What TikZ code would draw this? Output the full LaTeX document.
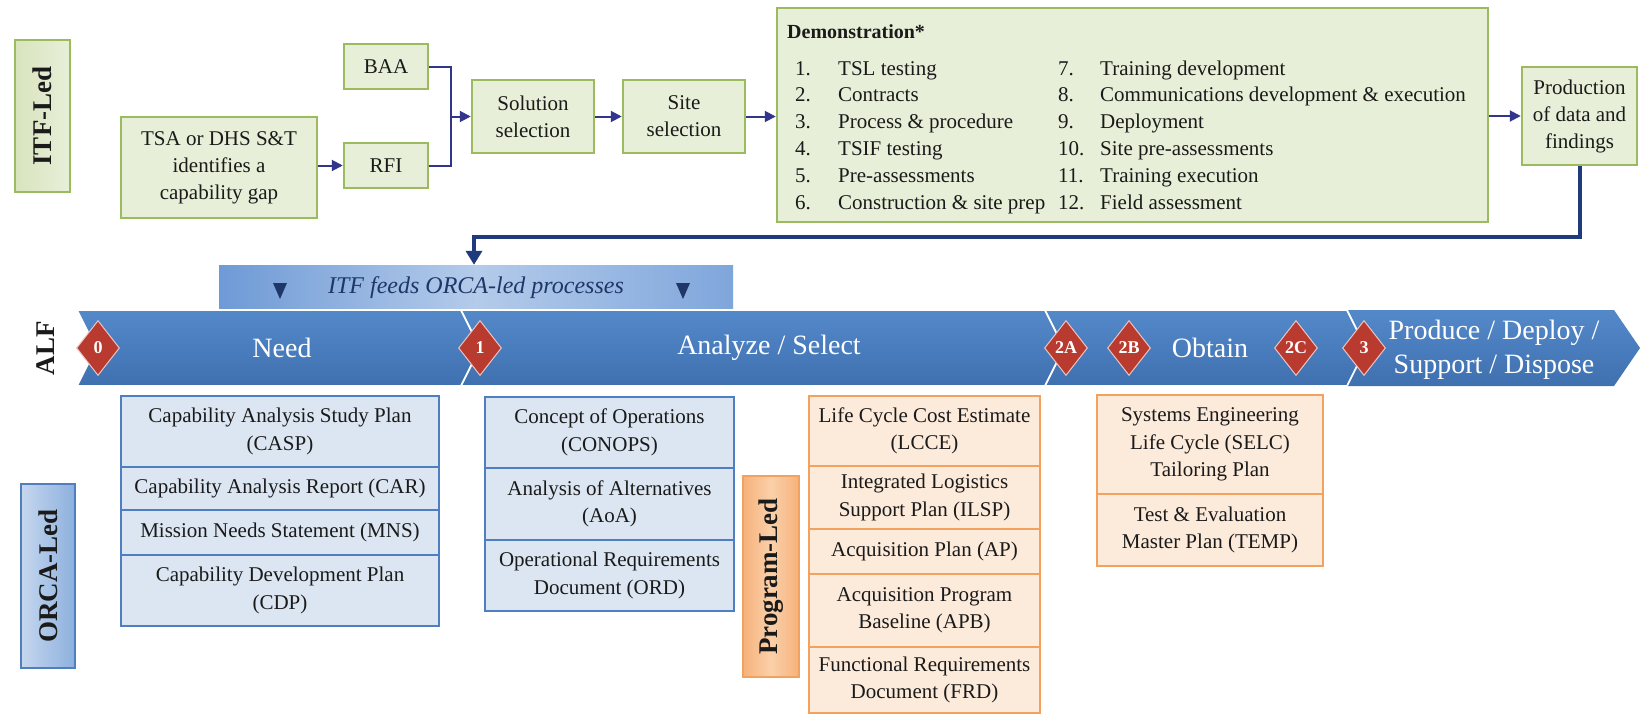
\documentclass[tikz,border=0pt]{standalone}
\usepackage{fontspec}
\setmainfont{Liberation Serif}
\usetikzlibrary{arrows.meta,shapes.geometric,calc}
\definecolor{gfill}{HTML}{E8EFD8}
\definecolor{gfillB}{HTML}{D8E4BE}
\definecolor{gline}{HTML}{9CBA5E}
\definecolor{bfill}{HTML}{DCE6F2}
\definecolor{bline}{HTML}{4F7FC0}
\definecolor{ofill}{HTML}{FCEADB}
\definecolor{oline}{HTML}{F2A15F}
\definecolor{txt}{HTML}{1A1A1A}
\definecolor{arrc}{HTML}{33358A}
\definecolor{fbc}{HTML}{1F3B7D}
\definecolor{bandtop}{HTML}{5489C9}
\definecolor{bandbot}{HTML}{3F70B0}
\definecolor{dred}{HTML}{B93A2F}
\definecolor{navy}{HTML}{1F3768}
\definecolor{itfL}{HTML}{6E9AD6}
\definecolor{itfM}{HTML}{B4CBEA}
\definecolor{itfR}{HTML}{7FA6DC}
\definecolor{orcaL}{HTML}{C5D7EE}
\definecolor{orcaR}{HTML}{8DB0DE}
\definecolor{progE}{HTML}{F6B27A}
\definecolor{progM}{HTML}{FAD0AA}
\tikzset{
 gbox/.style={draw=gline, line width=2.5pt, fill=gfill, inner sep=0pt, align=center, font=\fontsize{21}{27}\selectfont, text=txt},
 bcell/.style={draw=bline, line width=2pt, fill=bfill, inner sep=0pt, align=center, font=\fontsize{21}{27.5}\selectfont, text=txt},
 ocell/.style={draw=oline, line width=2pt, fill=ofill, inner sep=0pt, align=center, font=\fontsize{21}{27.5}\selectfont, text=txt},
 arr/.style={draw=arrc, line width=2pt, -{Triangle[length=11pt,width=11pt]}},
 ln/.style={draw=arrc, line width=2pt},
 fb/.style={draw=fbc, line width=4pt, -{Triangle[length=14pt,width=16pt]}},
 dia/.style={diamond, fill=dred, draw=white!70!dred, line width=1pt, minimum width=43pt, minimum height=55pt, inner sep=0pt, text=white, font=\bfseries\fontsize{18}{18}\selectfont},
 bandtxt/.style={text=white, font=\fontsize{28}{34}\selectfont, align=center, inner sep=0pt},
 sidelbl/.style={rotate=90, font=\bfseries\fontsize{27}{27}\selectfont, text=txt, inner sep=0pt},
 dtxt/.style={anchor=base west, font=\fontsize{21}{27}\selectfont, inner sep=0pt, text=txt},
 seg/.style={top color=bandtop, bottom color=bandbot, draw=white, line width=1.6pt},
}
\begin{document}
\begin{tikzpicture}[x=1pt,y=-1pt]
\useasboundingbox (0,0) rectangle (1640,715);
\fill[white] (0,0) rectangle (1640,715);

% ---------- ITF-led top row ----------
\node[gbox, left color=gfillB, right color=gfill, minimum width=55pt, minimum height=152pt] (itfled) at (42.5,116) {};
\node[sidelbl] (itfledtxt) at (itfled.center) {ITF-Led};

\node[gbox, minimum width=196pt, minimum height=101pt] (tsa) at (219,167.5) {TSA or DHS S\&T\\identifies a\\capability gap};
\node[gbox, minimum width=84pt, minimum height=45pt] (baa) at (386,66.5) {BAA};
\node[gbox, minimum width=84pt, minimum height=45pt] (rfi) at (386,165.5) {RFI};
\node[gbox, minimum width=122pt, minimum height=73pt] (sol) at (533,116.5) {Solution\\selection};
\node[gbox, minimum width=122pt, minimum height=73pt] (site) at (684,116.5) {Site\\selection};
\node[gbox, minimum width=711pt, minimum height=214pt] (demo) at (1132.5,115) {};
\node[gbox, minimum width=115pt, minimum height=98pt] (prod) at (1579.5,116) {Production\\of data and\\findings};

\node[dtxt, font=\bfseries\fontsize{20}{24}\selectfont] (dhead) at (787,38) {Demonstration*};
\foreach \t [count=\i] in {TSL testing,Contracts,Process \& procedure,TSIF testing,Pre-assessments,Construction \& site prep}{
  \node[dtxt] (dl\i) at (795,{75+(\i-1)*26.8}) {\i.};
  \node[dtxt] (dt\i) at (838,{75+(\i-1)*26.8}) {\t};
}
\foreach \t [count=\i] in {Training development,Communications development \& execution,Deployment,Site pre-assessments,Training execution,Field assessment}{
  \pgfmathtruncatemacro\k{\i+6}
  \node[dtxt] (dl\k) at (1058,{75+(\i-1)*26.8}) {\k.};
  \node[dtxt] (dt\k) at (1100,{75+(\i-1)*26.8}) {\t};
}

% connectors
\draw[arr] (tsa.east |- rfi.west) -- (rfi.west);
\coordinate (join) at ([xshift=22pt]baa.east |- sol.west);
\draw[ln] (baa.east) -| (join);
\draw[ln] (rfi.east) -| (join);
\draw[arr] (join) -- (sol.west);
\draw[arr] (sol.east) -- (site.west);
\draw[arr] (site.east) -- (site.east -| demo.west);
\draw[arr] (demo.east |- prod.west) -- (prod.west);

% ---------- ITF feeds banner ----------
\node[minimum width=514pt, minimum height=45pt, inner sep=0pt, left color=itfL, right color=itfR, middle color=itfM, font=\itshape\fontsize{24}{24}\selectfont, text=navy] (itf) at (476,287.5) {ITF feeds ORCA-led processes};
\fill[navy] (273,283) -- (287,283) -- (280,299) -- cycle;
\fill[navy] (676,283) -- (690,283) -- (683,299) -- cycle;

\coordinate (fbturn) at (474,237);
\draw[fb] (prod.south) |- (fbturn) -- (fbturn |- itf.north);

% ---------- ALF band ----------
\shade[seg] (77,310) -- (461,310) -- (480,348) -- (461,386) -- (77,386) -- (96,348) -- cycle;
\shade[seg] (461,310) -- (1045,310) -- (1064,348) -- (1045,386) -- (461,386) -- (480,348) -- cycle;
\shade[seg] (1045,310) -- (1347,310) -- (1366,348) -- (1347,386) -- (1045,386) -- (1064,348) -- cycle;
\shade[top color=bandtop, bottom color=bandbot] (1347,310) -- (1614,310) -- (1640,348) -- (1614,386) -- (1347,386) -- (1366,348) -- cycle;
\draw[white, line width=1.6pt] (1347,310) -- (1366,348) -- (1347,386);

\node[bandtxt] (need) at (282,348) {Need};
\node[bandtxt] (anl) at (769,348) {Analyze / Select};
\node[bandtxt] (obt) at (1210,348) {Obtain};
\node[bandtxt] (pdsd) at (1494,350) {Produce / Deploy /\\Support / Dispose};

\node[dia] (m0) at (98,348) {0};
\node[dia] (m1) at (480,348) {1};
\node[dia] (m2a) at (1066,348) {2A};
\node[dia] (m2b) at (1129,348) {2B};
\node[dia] (m2c) at (1296,348) {2C};
\node[dia] (m3) at (1364,348) {3};

\node[sidelbl] (alf) at (46,348) {ALF};

% ---------- ORCA-led ----------
\node[draw=bline, line width=2pt, left color=orcaL, right color=orcaR, minimum width=54pt, minimum height=184pt, inner sep=0pt] (orca) at (48,576) {};
\node[sidelbl] (orcatxt) at (orca.center) {ORCA-Led};

\node[bcell, minimum width=318pt, minimum height=71pt] (casp) at (280,431.5) {Capability Analysis Study Plan\\(CASP)};
\node[bcell, minimum width=318pt, minimum height=43pt] (car) at (280,488.5) {Capability Analysis Report (CAR)};
\node[bcell, minimum width=318pt, minimum height=45pt] (mns) at (280,532.5) {Mission Needs Statement (MNS)};
\node[bcell, minimum width=318pt, minimum height=71pt] (cdp) at (280,590.5) {Capability Development Plan\\(CDP)};

\node[bcell, minimum width=249pt, minimum height=71pt] (conops) at (609.5,432.5) {Concept of Operations\\(CONOPS)};
\node[bcell, minimum width=249pt, minimum height=72pt] (aoa) at (609.5,504) {Analysis of Alternatives\\(AoA)};
\node[bcell, minimum width=249pt, minimum height=71pt] (ord) at (609.5,575.5) {Operational Requirements\\Document (ORD)};

% ---------- Program-led ----------
\node[draw=oline, line width=2pt, left color=progE, right color=progE, middle color=progM, minimum width=56pt, minimum height=201pt, inner sep=0pt] (prog) at (771,576.5) {};
\node[sidelbl] (progtxt) at (prog.center) {Program-Led};

\node[ocell, minimum width=231pt, minimum height=70pt] (lcce) at (924.5,431) {Life Cycle Cost Estimate\\(LCCE)};
\node[ocell, minimum width=231pt, minimum height=63pt] (ilsp) at (924.5,497.5) {Integrated Logistics\\Support Plan (ILSP)};
\node[ocell, minimum width=231pt, minimum height=45pt] (ap) at (924.5,551.5) {Acquisition Plan (AP)};
\node[ocell, minimum width=231pt, minimum height=73pt] (apb) at (924.5,610.5) {Acquisition Program\\Baseline (APB)};
\node[ocell, minimum width=231pt, minimum height=66pt] (frd) at (924.5,680) {Functional Requirements\\Document (FRD)};

\node[ocell, minimum width=226pt, minimum height=99pt] (selc) at (1210,444.5) {Systems Engineering\\Life Cycle (SELC)\\Tailoring Plan};
\node[ocell, minimum width=226pt, minimum height=72pt] (temp) at (1210,530) {Test \& Evaluation\\Master Plan (TEMP)};
\end{tikzpicture}
\end{document}
